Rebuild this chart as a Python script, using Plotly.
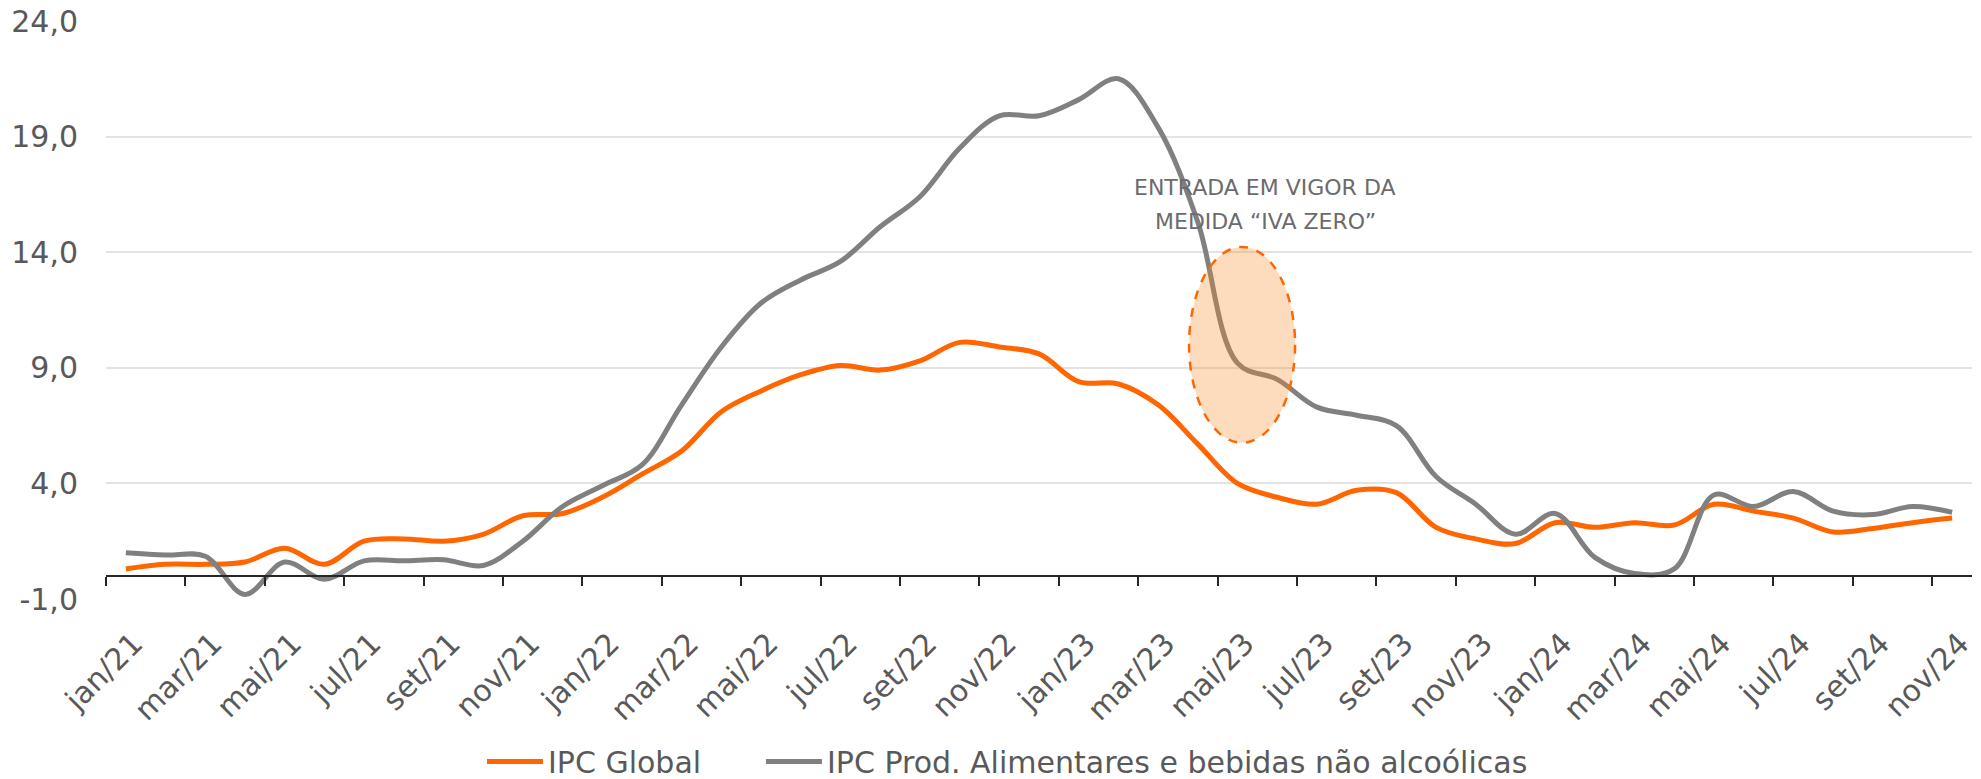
import plotly.graph_objects as go

# ---------------- data ----------------
months = [
    "jan/21", "fev/21", "mar/21", "abr/21", "mai/21", "jun/21", "jul/21", "ago/21", "set/21", "out/21", "nov/21", "dez/21",
    "jan/22", "fev/22", "mar/22", "abr/22", "mai/22", "jun/22", "jul/22", "ago/22", "set/22", "out/22", "nov/22", "dez/22",
    "jan/23", "fev/23", "mar/23", "abr/23", "mai/23", "jun/23", "jul/23", "ago/23", "set/23", "out/23", "nov/23", "dez/23",
    "jan/24", "fev/24", "mar/24", "abr/24", "mai/24", "jun/24", "jul/24", "ago/24", "set/24", "out/24", "nov/24",
]

ipc_global = [
    0.3, 0.5, 0.5, 0.6, 1.2, 0.5, 1.5, 1.6, 1.5, 1.8, 2.6, 2.7,
    3.4, 4.4, 5.4, 7.1, 8.0, 8.7, 9.1, 8.9, 9.3, 10.1, 9.9, 9.6,
    8.4, 8.3, 7.4, 5.7, 4.0, 3.4, 3.1, 3.7, 3.6, 2.1, 1.6, 1.4,
    2.3, 2.1, 2.3, 2.2, 3.1, 2.8, 2.5, 1.9, 2.05, 2.3, 2.5,
]

ipc_alimentares = [
    1.0, 0.9, 0.85, -0.8, 0.6, -0.15, 0.65, 0.65, 0.7, 0.45, 1.5, 3.0,
    3.9, 4.8, 7.4, 9.9, 11.8, 12.8, 13.6, 15.1, 16.4, 18.5, 19.9, 19.9,
    20.6, 21.5, 19.4, 15.3, 9.2, 8.5, 7.3, 6.95, 6.5, 4.3, 3.1, 1.8,
    2.7, 0.8, 0.1, 0.3, 3.5, 3.0, 3.65, 2.8, 2.65, 3.0, 2.75,
]

series_names = ["IPC Global", "IPC Prod. Alimentares e bebidas não alcoólicas"]
y_ticks = [-1, 4, 9, 14, 19, 24]
y_tick_text = ["-1,0", "4,0", "9,0", "14,0", "19,0", "24,0"]

annotation_lines = ["ENTRADA EM VIGOR DA", "MEDIDA “IVA ZERO”"]

# ---------------- style ----------------
ORANGE = "#FF6600"
GRAY = "#808080"
TEXT = "#595959"
FONT = "Verdana, DejaVu Sans, sans-serif"
FS = 30

Y_MIN, Y_MAX = -1, 24
n = len(months)
label_vals = months[::2]
boundary_vals = [i - 0.5 for i in range(0, n, 2)]

fig = go.Figure()

fig.add_trace(go.Scatter(
    x=months, y=ipc_global, name=series_names[0], mode="lines", legend="legend",
    line=dict(color=ORANGE, width=5, shape="spline", smoothing=1.0),
))
fig.add_trace(go.Scatter(
    x=months, y=ipc_alimentares, name=series_names[1], mode="lines", legend="legend2",
    line=dict(color=GRAY, width=5, shape="spline", smoothing=1.0),
))
# helper trace for the zero-line axis (ticks between categories)
fig.add_trace(go.Scatter(
    x=[], y=[], xaxis="x2", yaxis="y", showlegend=False, hoverinfo="skip",
))

# ellipse highlighting the "IVA zero" period
fig.add_shape(
    type="circle", xref="x", yref="y",
    x0=26.78, x1=29.45, y0=5.76, y1=14.23,
    fillcolor="rgba(247,140,40,0.30)",
    line=dict(color=ORANGE, width=2.5, dash="dash"),
    layer="above",
)

for txt, yy in zip(annotation_lines, [16.78, 15.31]):
    fig.add_annotation(
        x=28.7, y=yy, xref="x", yref="y", text=txt, showarrow=False,
        font=dict(family=FONT, size=22, color="#6B6B6B"),
        xanchor="center", yanchor="middle",
    )

legend_style = dict(
    orientation="h", xanchor="left", y=-0.281, yanchor="middle",
    font=dict(family=FONT, size=FS, color=TEXT),
    itemwidth=56, bgcolor="rgba(0,0,0,0)",
)

# the page body has an 8px default margin; size the figure to fill the window
fig.update_layout(
    width=1973, height=771,
    margin=dict(l=98, r=9, t=13, b=180, autoexpand=False),
    paper_bgcolor="white", plot_bgcolor="white",
    font=dict(family=FONT, size=FS, color=TEXT),
    showlegend=True,
    legend=dict(x=0.2015, **legend_style),
    legend2=dict(x=0.351, **legend_style),
    xaxis=dict(
        type="category", range=[-0.5, n - 0.5], automargin=False,
        tickmode="array", tickvals=label_vals, ticktext=label_vals,
        tickangle=-45, showgrid=False, showline=False, zeroline=False,
        ticks="", ticklabelstandoff=20, ticklabelshift=8,
        tickfont=dict(family=FONT, size=FS, color=TEXT),
    ),
    xaxis2=dict(
        overlaying="x", anchor="free", automargin=False,
        position=(0 - Y_MIN) / (Y_MAX - Y_MIN),
        range=[-0.5, n - 0.5], type="linear",
        tickmode="array", tickvals=boundary_vals,
        showticklabels=False, showgrid=False, zeroline=False,
        showline=True, linecolor="#262626", linewidth=2,
        ticks="outside", ticklen=9, tickwidth=2, tickcolor="#262626",
    ),
    yaxis=dict(
        range=[Y_MIN, Y_MAX], tickmode="array", tickvals=y_ticks, ticktext=y_tick_text,
        showgrid=True, gridcolor="#E3E3E3", gridwidth=2, automargin=False,
        zeroline=False, showline=False, ticks="", ticklabelstandoff=27,
        ticklabeloverflow="allow",
        tickfont=dict(family=FONT, size=FS, color=TEXT),
    ),
)

fig.write_html("out.html")
